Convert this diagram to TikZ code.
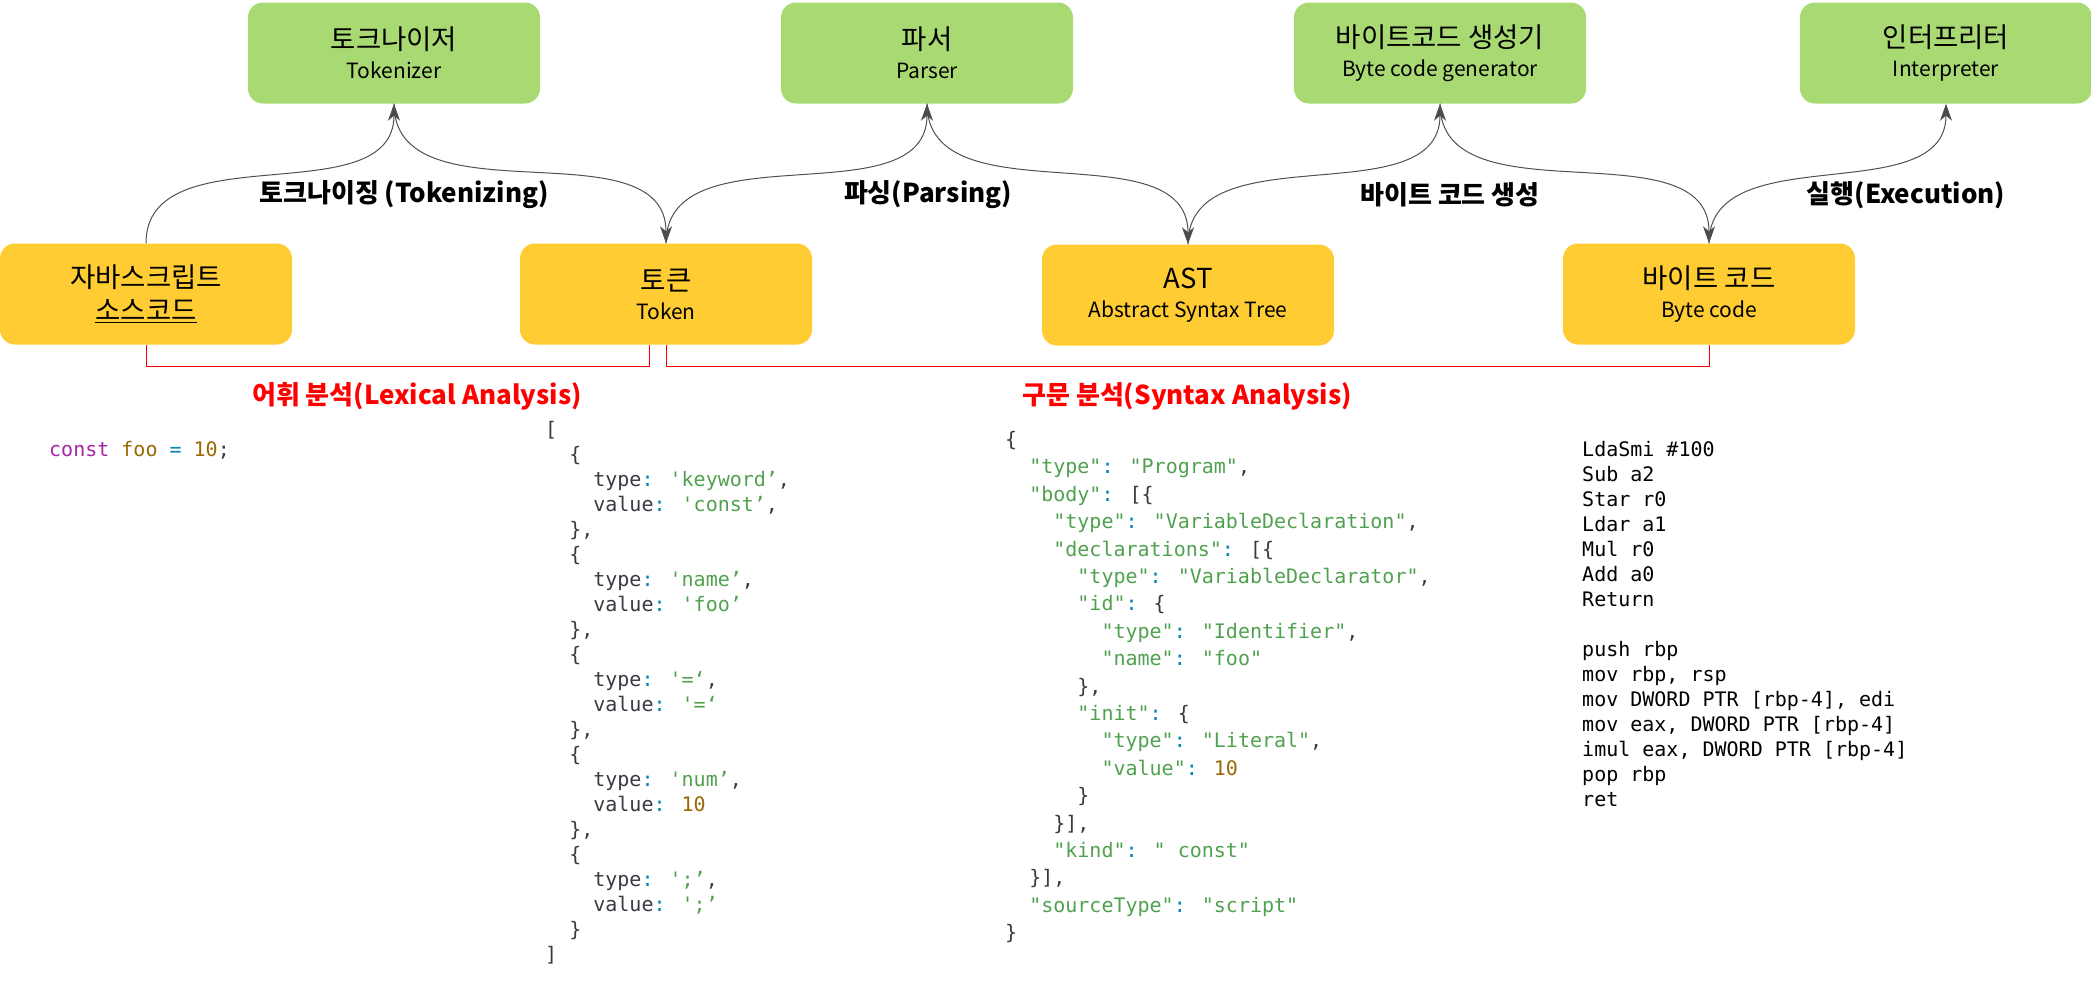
\documentclass[tikz,border=0pt]{standalone}
\usepackage{fontspec}
\usepackage{xcolor}
\usepackage{tikz}
\usetikzlibrary{arrows.meta}
\setmainfont{Noto Sans CJK KR}
\newfontfamily\codefont{DejaVu Sans Mono}[WordSpace={1,0,0}]

\definecolor{toolgreen}{HTML}{A9D973}
\definecolor{datayellow}{HTML}{FFCC33}
\definecolor{flowgray}{HTML}{505050}
\definecolor{jskeyword}{HTML}{A626A4}
\definecolor{jsnumber}{HTML}{986801}
\definecolor{jspunct}{HTML}{0184BC}
\definecolor{jsstring}{HTML}{50A14F}
\definecolor{jsplain}{HTML}{383A42}

\newcommand\ttlfont{\fontsize{27.5}{33}\selectfont}
\newcommand\subfont{\fontsize{21}{26}\selectfont}
\newcommand\jkw[1]{\textcolor{jskeyword}{#1}}
\newcommand\jnum[1]{\textcolor{jsnumber}{#1}}
\newcommand\jpun[1]{\textcolor{jspunct}{#1}}
\newcommand\jstr[1]{\textcolor{jsstring}{#1}}

\begin{document}
\begin{tikzpicture}[x=1pt, y=-1pt,
    stagebox/.style={rectangle, rounded corners=15pt, minimum width=292pt, minimum height=101pt, align=center, inner sep=0pt, font=\subfont},
    toolbox/.style={stagebox, fill=toolgreen},
    databox/.style={stagebox, fill=datayellow},
    flowarrow/.style={draw=flowgray, line width=1pt, -{Stealth[length=17pt, width=12pt, inset=5pt, fill=flowgray!90!black]}},
    steplabel/.style={font=\bfseries\fontsize{26}{30}\selectfont},
    phase/.style={draw=red, line width=1pt},
    phaselabel/.style={text=red, font=\bfseries\fontsize{26}{30}\selectfont},
    codeblock/.style={anchor=north west, align=left, inner sep=0pt, text=jsplain, font=\codefont\fontsize{20}{25}\selectfont}]
    \useasboundingbox (0,0) rectangle (2091,985);

    \node[toolbox] (tokenizer) at (394,53) {{\ttlfont 토크나이저}\\[3pt]Tokenizer};
    \node[toolbox] (parser) at (927,53) {{\ttlfont 파서}\\[3pt]Parser};
    \node[toolbox] (bcgen) at (1440,53) {{\ttlfont 바이트코드 생성기}\\[3pt]Byte code generator};
    \node[toolbox] (interp) at (1946,53) {{\ttlfont 인터프리터}\\[3pt]Interpreter};

    \node[databox] (src) at (146,294) {{\ttlfont 자바스크립트}\\[7pt]{\ttlfont \underline{소스코드}}};
    \node[databox] (tok) at (666,294) {{\ttlfont 토큰}\\[3pt]Token};
    \node[databox] (ast) at (1188,295) {{\ttlfont AST}\\[3pt]Abstract Syntax Tree};
    \node[databox] (bc) at (1709,294) {{\ttlfont 바이트 코드}\\[3pt]Byte code};

    \draw[flowarrow] (src.north) to[out=90, in=-90] (tokenizer.south);
    \draw[flowarrow] (tokenizer.south) to[out=-90, in=90] (tok.north);
    \draw[flowarrow] (tok.north) to[out=90, in=-90] (parser.south);
    \draw[flowarrow] (parser.south) to[out=-90, in=90] (ast.north);
    \draw[flowarrow] (ast.north) to[out=90, in=-90] (bcgen.south);
    \draw[flowarrow] (bcgen.south) to[out=-90, in=90] (bc.north);
    \draw[flowarrow] (bc.north) to[out=90, in=-90] (interp.south);

    \node[steplabel] (tokenizing) at (404,195) {토크나이징 (Tokenizing)};
    \node[steplabel] (parsing) at (928,195) {파싱(Parsing)};
    \node[steplabel] (generating) at (1450,195) {바이트 코드 생성};
    \node[steplabel] (execution) at (1906,195) {실행(Execution)};

    \draw[phase] (src.south) -- ++(0,22) -| ([xshift=-17pt]tok.south);
    \draw[phase] (tok.south) -- ++(0,22) -| (bc.south);
    \node[phaselabel] (lexical) at (417,396) {어휘 분석(Lexical Analysis)};
    \node[phaselabel] (syntax) at (1187,396) {구문 분석(Syntax Analysis)};

    \node[codeblock] (srccode) at (49,441) {\jkw{const} \jnum{foo} \jpun{=} \jnum{10};};

    \node[codeblock] (tokcode) at (545,421) {[\\
~~\{\\
~~~~type\jpun{:} \jstr{'keyword’},\\
~~~~value\jpun{:} \jstr{'const’},\\
~~\},\\
~~\{\\
~~~~type\jpun{:} \jstr{'name’},\\
~~~~value\jpun{:} \jstr{'foo’}\\
~~\},\\
~~\{\\
~~~~type\jpun{:} \jstr{'=‘},\\
~~~~value\jpun{:} \jstr{'=‘}\\
~~\},\\
~~\{\\
~~~~type\jpun{:} \jstr{'num’},\\
~~~~value\jpun{:} \jnum{10}\\
~~\},\\
~~\{\\
~~~~type\jpun{:} \jstr{';’},\\
~~~~value\jpun{:} \jstr{';’}\\
~~\}\\
]};

    \node[codeblock, font=\codefont\fontsize{20}{27.4}\selectfont] (astcode) at (1005,431) {\{\\
~~\jstr{"type"}\jpun{:} \jstr{"Program"},\\
~~\jstr{"body"}\jpun{:} [\{\\
~~~~\jstr{"type"}\jpun{:} \jstr{"VariableDeclaration"},\\
~~~~\jstr{"declarations"}\jpun{:} [\{\\
~~~~~~\jstr{"type"}\jpun{:} \jstr{"VariableDeclarator"},\\
~~~~~~\jstr{"id"}\jpun{:} \{\\
~~~~~~~~\jstr{"type"}\jpun{:} \jstr{"Identifier"},\\
~~~~~~~~\jstr{"name"}\jpun{:} \jstr{"foo"}\\
~~~~~~\},\\
~~~~~~\jstr{"init"}\jpun{:} \{\\
~~~~~~~~\jstr{"type"}\jpun{:} \jstr{"Literal"},\\
~~~~~~~~\jstr{"value"}\jpun{:} \jnum{10}\\
~~~~~~\}\\
~~~~\}],\\
~~~~\jstr{"kind"}\jpun{:} \jstr{" const"}\\
~~\}],\\
~~\jstr{"sourceType"}\jpun{:} \jstr{"script"}\\
\}};

    \node[codeblock, text=black] (bccode) at (1582,441) {LdaSmi \#100\\
Sub a2\\
Star r0\\
Ldar a1\\
Mul r0\\
Add a0\\
Return\\[25pt]
push rbp\\
mov rbp, rsp\\
mov DWORD PTR [rbp-4], edi\\
mov eax, DWORD PTR [rbp-4]\\
imul eax, DWORD PTR [rbp-4]\\
pop rbp\\
ret};
\end{tikzpicture}
\end{document}
